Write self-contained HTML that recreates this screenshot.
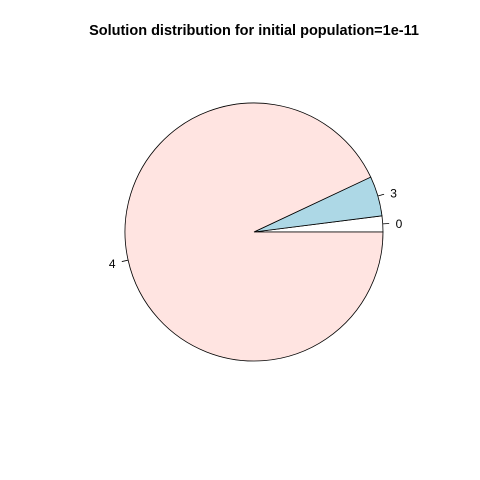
<!DOCTYPE html>
<html><head><meta charset="utf-8"><style>body{margin:0;background:#fff}svg{display:block}</style></head>
<body>
<svg id="chart" width="480" height="480" xmlns="http://www.w3.org/2000/svg">
<rect width="480" height="480" fill="#fff"/>
<text x="254" y="35" text-anchor="middle" font-family="Liberation Sans, sans-serif" font-weight="bold" font-size="14.5">Solution distribution for initial population=1e-11</text>
<g id="slices"></g>
</svg>
<script>
const categories = ["0", "3", "4"];
const values = [2, 5, 93];
const colors = ["#ffffff", "#add8e6", "#ffe4e1"];
const cx = 254, cy = 232, R = 129;
const g = document.getElementById('slices');
const NS = 'http://www.w3.org/2000/svg';
const total = values.reduce((a, b) => a + b, 0);
let a0 = 0;
function pt(a, r) { return [cx + r * Math.cos(a), cy - r * Math.sin(a)]; }
values.forEach((v, i) => {
  const a1 = a0 + v / total * 2 * Math.PI;
  const p0 = pt(a0, R), p1 = pt(a1, R);
  const large = (a1 - a0) > Math.PI ? 1 : 0;
  const path = document.createElementNS(NS, 'path');
  path.setAttribute('d', `M${cx},${cy} L${p0[0]},${p0[1]} A${R},${R} 0 ${large} 0 ${p1[0]},${p1[1]} Z`);
  path.setAttribute('fill', colors[i]);
  path.setAttribute('stroke', '#000');
  path.setAttribute('stroke-width', '0.8');
  
  
  g.appendChild(path);
  const am = (a0 + a1) / 2;
  const t0 = pt(am, R), t1 = pt(am, R * 1.05), tl = pt(am, R * 1.1);
  const ln = document.createElementNS(NS, 'line');
  ln.setAttribute('x1', t0[0]); ln.setAttribute('y1', t0[1]);
  ln.setAttribute('x2', t1[0]); ln.setAttribute('y2', t1[1]);
  ln.setAttribute('stroke', '#000'); ln.setAttribute('stroke-width', '0.8');
  
  
  g.appendChild(ln);
  const tx = document.createElementNS(NS, 'text');
  tx.setAttribute('x', tl[0]);
  tx.setAttribute('y', tl[1] + 5);
  tx.setAttribute('text-anchor', Math.cos(am) >= 0 ? 'start' : 'end');
  tx.setAttribute('font-family', 'Liberation Sans, sans-serif');
  tx.setAttribute('font-size', '12');
  tx.textContent = categories[i];
  
  
  g.appendChild(tx);
  a0 = a1;
});
</script>
</body></html>
